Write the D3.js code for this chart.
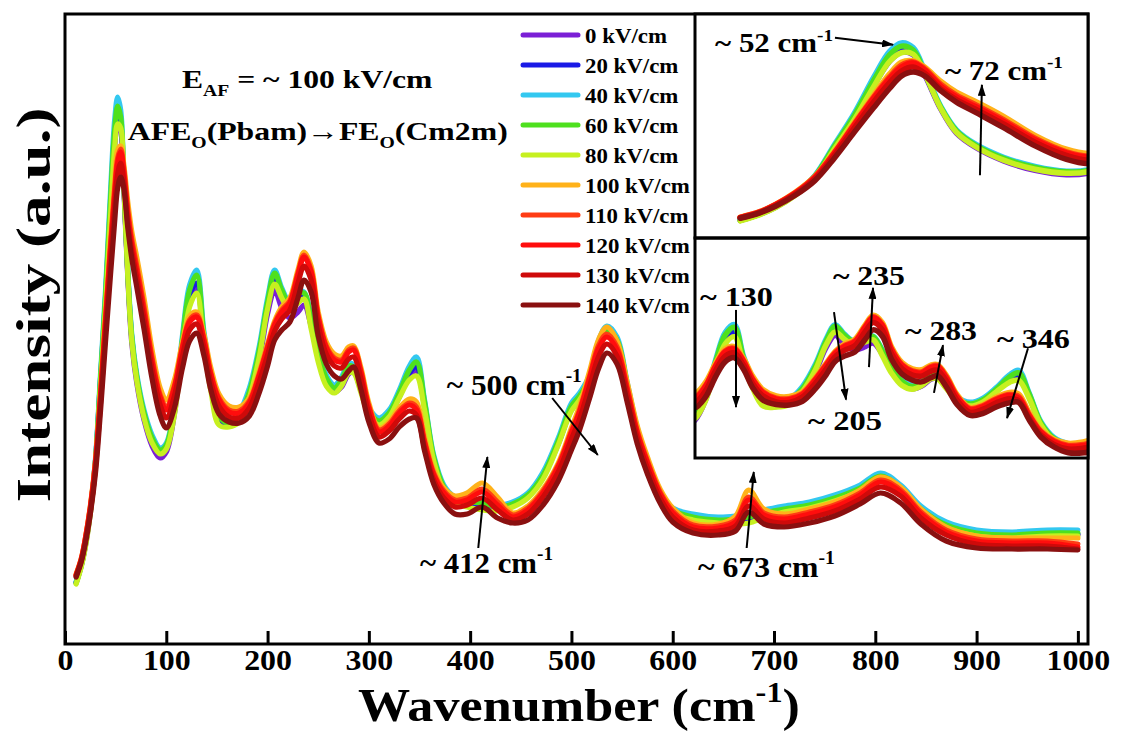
<!DOCTYPE html>
<html><head><meta charset="utf-8">
<script src="https://cdn.jsdelivr.net/npm/d3@7"></script>
<style>
html,body{margin:0;padding:0;background:#fff;}
svg{display:block;}
text{font-family:"Liberation Serif","Times New Roman",serif;font-weight:bold;fill:#000;}
</style></head><body>
<svg id="chart" width="1121" height="731"></svg>
<script>
// ---------------- data ----------------
const wavenumbers = [11,16,20,25,30,35,40,45,49,52, 55,58,62,66,71,78,86,94,100,108, 116,123,130,137,144,152,162,172,182,192, 200,207,214,222,230,236,243,250,258,266, 273,280,285,292,300,310,320,330,340,347, 355,364,374,385,397,412,427,442,457,472, 487,500,508,518,527,535,545,555,565,575, 588,600,620,645,662,675,690,710,735,760, 785,805,825,845,870,900,935,970,1000];

const int0kV = [61,78,97,131,178,258,338,430,496,522, 514,458,366,300,260,224,198,186,192,230, 296,343,356,302,258,222,218,226,247,285, 330,354,336,326,332,339,318,288,263,252, 257,270,272,254,230,220,228,247,268,273, 237,184,154,142,138,136,134,138,147,167, 200,234,244,262,296,311,300,257,212,180, 148,132,125,122,123,125,129,133,137,144, 154,165,154,133,117,109,107,109,109];
const int20kV = [62,79,99,133,182,264,346,441,508,532, 522,462,370,305,265,230,205,192,197,234, 301,349,361,306,263,226,220,228,250,291, 336,364,350,336,346,350,322,290,265,255, 262,276,275,256,232,222,230,249,271,277, 239,185,155,143,139,135,135,139,148,168, 201,235,245,263,297,311,301,258,213,181, 149,133,126,123,124,126,130,134,138,145, 155,166,155,134,118,110,108,110,110];
const int40kV = [62,79,99,134,184,269,354,454,524,547, 534,469,374,309,269,234,209,196,201,239, 309,359,374,314,269,231,224,232,256,299, 346,374,356,342,352,352,326,294,269,259, 267,281,279,259,236,226,234,254,278,287, 244,189,159,147,144,144,139,142,151,172, 206,241,251,269,304,318,307,262,216,184, 152,136,130,127,128,130,134,138,142,149, 159,171,159,138,122,114,112,114,114];
const int60kV = [61,78,98,133,182,265,348,445,514,538, 527,464,371,306,266,231,206,194,199,236, 305,354,369,310,266,228,221,229,252,295, 342,371,354,340,350,351,324,291,266,256, 264,278,277,257,233,223,231,251,274,282, 242,187,157,145,142,141,137,140,149,169, 203,238,248,266,300,314,304,260,214,182, 150,134,127,124,125,127,131,135,139,146, 156,168,156,135,119,111,109,111,111];
const int80kV = [60,77,96,130,177,257,336,428,496,520, 516,461,368,302,262,226,201,190,195,229, 292,337,351,298,253,219,217,222,246,288, 335,360,346,333,341,345,315,282,258,251, 258,271,271,252,229,219,227,246,264,268, 234,183,153,141,137,134,133,137,146,165, 199,233,244,262,295,309,299,257,212,180, 148,131,124,121,120,121,126,132,136,143, 153,164,153,132,116,108,106,108,108];
const int100kV = [70,85,105,138,182,250,328,405,462,494, 498,480,442,412,386,346,294,256,244,264, 302,328,332,310,276,250,238,237,246,274, 300,323,337,346,374,392,378,332,302,290, 288,297,298,277,241,216,222,236,245,242, 207,174,156,148,151,161,147,131,138,155, 181,216,238,273,305,317,303,262,218,187, 154,136,121,120,128,154,135,130,135,142, 154,167,157,135,117,108,106,106,106];
const int110kV = [69,85,105,137,181,248,325,400,454,486, 495,476,434,404,377,337,286,249,237,258, 298,324,329,306,271,246,234,233,243,271, 298,321,334,343,371,389,374,328,298,286, 284,294,296,274,238,214,220,233,241,237, 203,171,153,144,146,155,142,129,136,153, 179,213,234,268,299,310,297,257,213,183, 151,133,119,118,124,147,131,127,132,139, 151,164,154,132,114,105,103,103,100];
const int120kV = [69,84,104,136,179,246,322,396,449,481, 492,472,429,399,372,332,282,246,234,256, 296,322,327,304,269,244,232,231,241,269, 296,319,332,341,369,387,372,326,296,284, 282,292,294,272,236,212,218,231,239,234, 201,169,151,142,144,152,139,127,134,151, 177,211,232,266,296,307,294,254,211,181, 149,131,117,116,122,144,129,125,130,137, 149,162,152,130,112,103,101,101,97];
const int130kV = [68,83,102,133,175,240,314,386,438,470, 481,463,421,392,365,325,275,239,226,248, 288,314,320,297,262,238,227,226,236,263, 289,313,325,334,361,378,364,319,290,278, 276,285,287,266,230,207,213,225,233,229, 196,164,146,137,139,146,134,124,130,147, 172,205,225,258,288,300,288,249,206,176, 145,127,114,113,118,138,125,121,126,133, 145,157,148,126,109,100,98,98,95];
const int140kV = [67,82,100,130,170,232,302,370,422,456, 467,456,416,385,356,315,265,228,216,236, 276,303,311,289,254,230,222,221,228,252, 278,304,314,322,346,364,352,308,280,268, 265,273,277,255,222,201,205,217,225,226, 193,160,141,130,130,137,126,121,124,139, 163,194,214,246,276,291,280,242,200,170, 140,122,111,109,113,132,120,117,121,128, 140,151,141,120,103,96,95,95,94];

const fieldLabels = ["0 kV/cm","20 kV/cm","40 kV/cm","60 kV/cm","80 kV/cm","100 kV/cm","110 kV/cm","120 kV/cm","130 kV/cm","140 kV/cm"];
const seriesColors = ["#7b1fd6","#1a1ae6","#33c8f0","#4ee01e","#c6f020","#ffb21a","#ff3c14","#ff0d0d","#cf0a0a","#8a1010"];
const seriesValues = [int0kV,int20kV,int40kV,int60kV,int80kV,int100kV,int110kV,int120kV,int130kV,int140kV];
const xTickValues = [0,100,200,300,400,500,600,700,800,900,1000];

// annotations: [wavenumber, intensity]
const mainNotes = [
  {text:"~ 500 cm", at:[377,249], w:135, arrow:[[481,246],[526,189]]},
  {text:"~ 412 cm", at:[350.5,71], w:133, arrow:[[408,96],[417,187]]},
  {text:"~ 673 cm", at:[625,67], w:137, arrow:[[673,96],[680,172]]}
];
const inset1Notes = [
  {text:"~ 52 cm", at:[4.6,522], w:118, arrow:[[35.1,561],[49.9,542]]},
  {text:"~ 72 cm", at:[63.1,446], w:118, arrow:[[72,185],[72.5,432]]}
];
const inset2Notes = [
  {text:"~ 130", at:[103.8,409], w:73, arrow:[[131.3,402],[131.3,217]]},
  {text:"~ 235", at:[205.3,449], w:72, arrow:[[232.8,293],[235.9,444]]},
  {text:"~ 205", at:[186.3,173], w:74, arrow:[[206.1,398],[215.3,231]]},
  {text:"~ 283", at:[260.3,345], w:72, arrow:[[282.4,244],[289.3,335]]},
  {text:"~ 346", at:[330.5,329], w:73, arrow:[[354.2,329],[338.2,196]]}
];

// ---------------- drawing ----------------
const svg = d3.select("#chart");
const defs = svg.append("defs");
defs.append("marker").attr("id","ah").attr("viewBox","0 0 12 8").attr("refX",11).attr("refY",4)
  .attr("markerWidth",12).attr("markerHeight",8).attr("markerUnits","userSpaceOnUse").attr("orient","auto")
  .append("path").attr("d","M0,0 L12,4 L0,8 Z").attr("fill","#000");

const x = d3.scaleLinear().domain([0,1010]).range([65,1088]);
const y = d3.scaleLinear().domain([0,630]).range([644,14]);
const x1 = d3.scaleLinear().domain([0,100]).range([697,1090]);
const y1 = d3.scaleLinear().domain([13,626]).range([238,14]);
const x2 = d3.scaleLinear().domain([100,400]).range([695,1088]);
const y2 = d3.scaleLinear().domain([120,539]).range([458,238]);

function clip(id, x0, y0, w, h){
  defs.append("clipPath").attr("id",id).append("rect").attr("x",x0).attr("y",y0).attr("width",w).attr("height",h);
}
clip("cMain",65,14,1023,630);
clip("cIn1",695,14,393,224);
clip("cIn2",695,238,393,220);

function drawSeries(g, xs, ys, width){
  const line = d3.line().x((d,i)=>xs(wavenumbers[i])).y(d=>ys(d)).curve(d3.curveCatmullRom.alpha(0.5));
  seriesValues.forEach((vals,k)=>{
    g.append("path").attr("d",line(vals)).attr("fill","none").attr("stroke",seriesColors[k])
      .attr("stroke-width",width).attr("stroke-linejoin","round").attr("stroke-linecap","round");
  });
}

function richText(parent, px, py, parts, size, targetW, opts={}){
  const g = parent.append("g").attr("transform",`translate(${px},${py})`+(opts.rotate?` rotate(${opts.rotate})`:""));
  const t = g.append("text").attr("font-size",size).attr("text-anchor",opts.anchor||"start");
  let cur = 0;
  parts.forEach(([s,kind])=>{
    const off = kind==="sub" ? 0.3*size : kind==="sup" ? -0.42*size : 0;
    const ts = t.append("tspan").text(s).attr("dy",off-cur);
    if(kind) ts.attr("font-size",size*0.62);
    cur = off;
  });
  if(targetW){ const w = t.node().getBBox().width; t.attr("transform",`scale(${targetW/w},1)`); }
  return g;
}
function arrow(parent, xs, ys, a, b){
  parent.append("line").attr("x1",xs(a[0])).attr("y1",ys(a[1])).attr("x2",xs(b[0])).attr("y2",ys(b[1]))
    .attr("stroke","#000").attr("stroke-width",2).attr("marker-end","url(#ah)");
}

// main curves
const gMain = svg.append("g").attr("clip-path","url(#cMain)");
drawSeries(gMain, x, y, 5.2);

// axis
const ax = svg.append("g").attr("transform","translate(0,644)")
  .call(d3.axisBottom(x).tickValues(xTickValues).tickSizeInner(-13).tickSizeOuter(0).tickFormat(d3.format("d")));
ax.select(".domain").remove();
ax.selectAll(".tick line").attr("stroke","#000").attr("stroke-width",3);
ax.selectAll(".tick text").attr("y",26).attr("dy",null).attr("font-size",29)
  .attr("font-family",null).attr("fill","#000").attr("transform","scale(1.1,1)");
ax.attr("font-family",null).attr("font-size",null);

// frame
svg.append("rect").attr("x",65).attr("y",14).attr("width",1023).attr("height",630)
  .attr("fill","none").attr("stroke","#000").attr("stroke-width",3);

// insets
svg.append("rect").attr("x",695).attr("y",14).attr("width",393).attr("height",224).attr("fill","#fff");
svg.append("rect").attr("x",695).attr("y",238).attr("width",393).attr("height",220).attr("fill","#fff");
const gIn1 = svg.append("g").attr("clip-path","url(#cIn1)");
drawSeries(gIn1, x1, y1, 5.5);
const gIn2 = svg.append("g").attr("clip-path","url(#cIn2)");
drawSeries(gIn2, x2, y2, 5.5);
svg.append("rect").attr("x",695).attr("y",14).attr("width",393).attr("height",224)
  .attr("fill","none").attr("stroke","#000").attr("stroke-width",3);
svg.append("rect").attr("x",695).attr("y",238).attr("width",393).attr("height",220)
  .attr("fill","none").attr("stroke","#000").attr("stroke-width",3);

// annotations
const gAnn = svg.append("g");
mainNotes.forEach(n=>{
  richText(gAnn, x(n.at[0]), y(n.at[1]), [[n.text,""],["-1","sup"]], 30, n.w);
  arrow(gAnn, x, y, n.arrow[0], n.arrow[1]);
});
inset1Notes.forEach(n=>{
  richText(gAnn, x1(n.at[0]), y1(n.at[1]), [[n.text,""],["-1","sup"]], 27, n.w);
  arrow(gAnn, x1, y1, n.arrow[0], n.arrow[1]);
});
inset2Notes.forEach(n=>{
  richText(gAnn, x2(n.at[0]), y2(n.at[1]), [[n.text,""]], 27, n.w);
  arrow(gAnn, x2, y2, n.arrow[0], n.arrow[1]);
});

richText(gAnn, x(115.5), y(556), [["E",""],["AF","sub"],[" = ~ 100 kV/cm",""]], 26, 251);
richText(gAnn, x(62), y(504), [["AFE",""],["O","sub"],["(Pbam)\u2192FE",""],["O","sub"],["(Cm2m)",""]], 26, 380);

// legend
const gLeg = svg.append("g");
fieldLabels.forEach((lab,i)=>{
  const yy = 35 + 30*i;
  gLeg.append("line").attr("x1",523).attr("x2",578).attr("y1",yy).attr("y2",yy)
    .attr("stroke",seriesColors[i]).attr("stroke-width",5).attr("stroke-linecap","round");
  const g = gLeg.append("g").attr("transform",`translate(585,${yy+7.5})`);
  g.append("text").attr("font-size",21).attr("transform","scale(1.09,1)").text(lab);
});

// axis titles
richText(svg, 358, 721, [["Wavenumber (cm",""],["-1","sup"],[")",""]], 46, 442);
richText(svg, 50, 305, [["Intensity (a.u.)",""]], 48, 395, {rotate:-90, anchor:"middle"});
</script>
</body></html>
